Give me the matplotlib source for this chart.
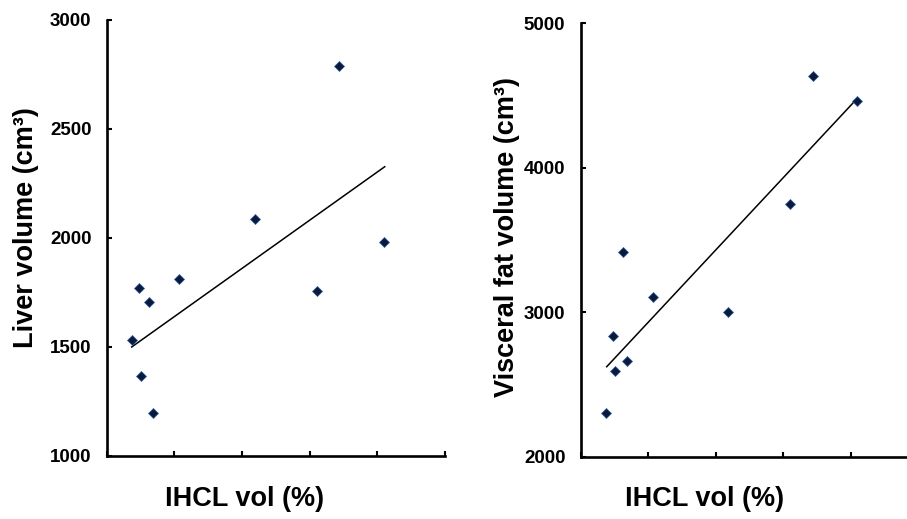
import matplotlib
matplotlib.use("Agg")
import matplotlib.pyplot as plt

# IHCL volume (%) per subject, shared by both panels
ihcl_vol = [1.85, 2.41, 2.51, 3.13, 3.40, 5.37, 10.95, 15.54, 17.18, 20.50]
liver_volume = [1532, 1772, 1367, 1708, 1196, 1812, 2086, 1757, 2790, 1983]
visceral_fat = [2301, 2834, 2593, 3420, 2663, 3106, 3000, 3748, 4638, 4465]

# linear trend lines (end points)
liver_fit_x = [1.85, 20.55]
liver_fit_y = [1500, 2327]
visceral_fit_x = [1.93, 20.30]
visceral_fit_y = [2623, 4461]

liver_ticks = [1000, 1500, 2000, 2500, 3000]
visceral_ticks = [2000, 3000, 4000, 5000]
x_ticks = [0, 5, 10, 15, 20, 25]

plt.rcParams.update({
    "font.family": ["Liberation Sans", "DejaVu Sans"],
    "font.weight": "bold",
})

MARKER = "#0b1a3c"
EDGE = "#2f5f9e"

fig = plt.figure(figsize=(9.07, 5.19), dpi=100)
fig.patch.set_facecolor("white")

ax_l = fig.add_axes([0.1176, 0.1214, 0.3730, 0.8401])
ax_r = fig.add_axes([0.6402, 0.1200, 0.3721, 0.8351])


def style_axis(ax, yticks):
    ax.set_xlim(0, 25)
    ax.set_ylim(yticks[0], yticks[-1])
    ax.set_xticks(x_ticks)
    ax.set_xticklabels([])
    ax.set_yticks(yticks)
    ax.set_yticklabels([str(t) for t in yticks], fontsize=13.5, fontweight="bold")
    ax.spines[["top", "right"]].set_visible(False)
    for side in ("left", "bottom"):
        ax.spines[side].set_linewidth(1.9)
        ax.spines[side].set_color("black")
        ax.spines[side].set_capstyle("projecting")
    ax.tick_params(direction="in", length=3.5, width=1.5, color="black")
    ax.tick_params(axis="y", pad=11)


for ax, y, fx, fy, ticks in (
    (ax_l, liver_volume, liver_fit_x, liver_fit_y, liver_ticks),
    (ax_r, visceral_fat, visceral_fit_x, visceral_fit_y, visceral_ticks),
):
    ax.plot(fx, fy, color="black", linewidth=1.1, zorder=2)
    ax.plot(ihcl_vol, y, linestyle="none", marker="D", markersize=4.8,
            markerfacecolor=MARKER, markeredgecolor=EDGE, markeredgewidth=0.5,
            zorder=3)
    style_axis(ax, ticks)

ax_l.set_ylabel("Liver volume (cm³)", fontsize=19.5, fontweight="bold", va="center")
ax_l.yaxis.set_label_coords(-0.239, 0.525)
ax_r.set_ylabel("Visceral fat volume (cm³)", fontsize=19.5, fontweight="bold", va="center")
ax_r.yaxis.set_label_coords(-0.219, 0.508)

for ax, lx in ((ax_l, 0.409), (ax_r, 0.368)):
    ax.set_xlabel("IHCL vol (%)", fontsize=19.5, fontweight="bold", va="center")
    ax.xaxis.set_label_coords(lx, -0.098)

fig.savefig("out.png", dpi=100, facecolor="white")
